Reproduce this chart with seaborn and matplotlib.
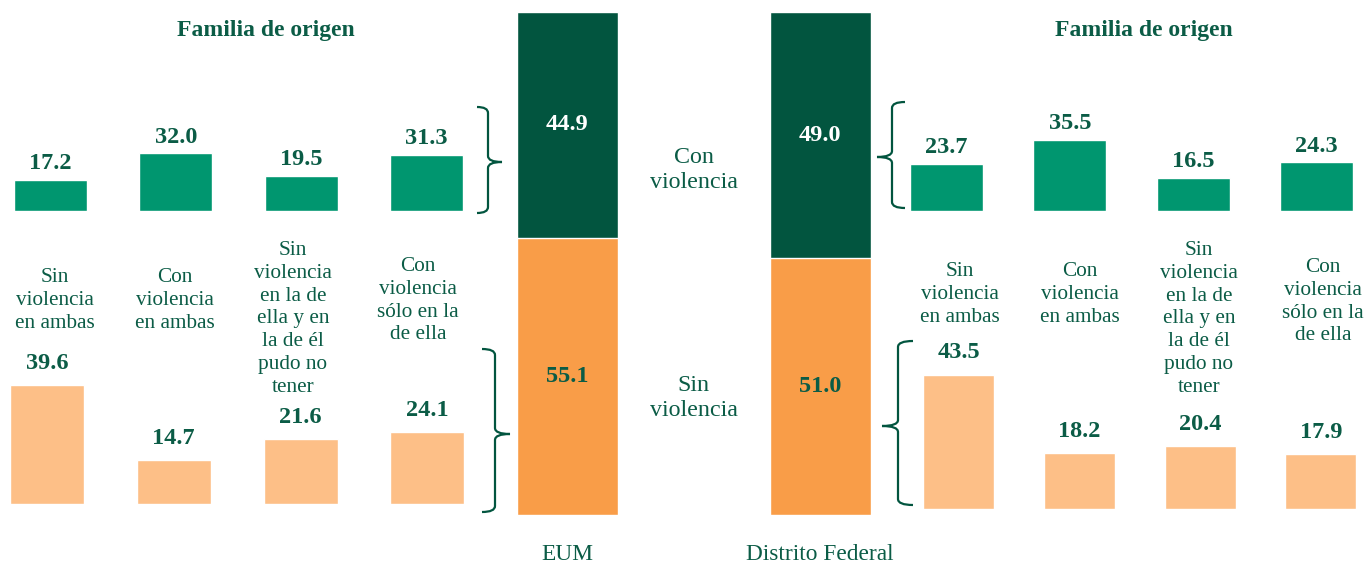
import seaborn as sns
import matplotlib.pyplot as plt
import numpy as np
import pandas as pd
from matplotlib.path import Path
from matplotlib.patches import PathPatch
from matplotlib.transforms import Affine2D

# Data
categories = ["Sin violencia en ambas", "Con violencia en ambas",
              "Sin violencia en la de ella y en la de él pudo no tener",
              "Con violencia sólo en la de ella"]
cat_labels = ["Sin\nviolencia\nen ambas", "Con\nviolencia\nen ambas",
              "Sin\nviolencia\nen la de\nella y en\nla de él\npudo no\ntener",
              "Con\nviolencia\nsólo en la\nde ella"]
eum_con = [17.2, 32.0, 19.5, 31.3]
eum_sin = [39.6, 14.7, 21.6, 24.1]
df_con = [23.7, 35.5, 16.5, 24.3]
df_sin = [43.5, 18.2, 20.4, 17.9]
regions = ["EUM", "Distrito Federal"]
total_con = [44.9, 49.0]
total_sin = [55.1, 51.0]

# Colours
GREEN = "#00966F"
DARK = "#02553F"
ORANGE = "#F99D48"
LIGHT = "#FDBF87"
TEXT = "#0B5C46"

sns.set_theme(style="white")
plt.rcParams['font.family'] = ['Liberation Serif', 'DejaVu Serif']

W, H = 1370, 565
fig = plt.figure(figsize=(W / 100, H / 100), dpi=100)
fig.patch.set_facecolor("white")
px = Affine2D().scale(1 / W, -1 / H).translate(0, 1) + fig.transFigure


def px_axes(x0, y0, x1, y1):
    ax = fig.add_axes([x0 / W, 1 - y1 / H, (x1 - x0) / W, (y1 - y0) / H])
    ax.set_facecolor("none")
    return ax


def small_panel(values, first, step, bar_w, top, base, unit, color, pad):
    # pixel geometry -> axes, seaborn does the bars
    ax = px_axes(first - step / 2, top, first + step * 3.5, base)
    sns.barplot(x=categories, y=values, color=color, saturation=1,
                width=bar_w / step, ax=ax)
    ax.set_xlim(-0.5, 3.5)
    ax.set_ylim(0, (base - top) / unit)
    ax.bar_label(ax.containers[0], fmt="%.1f", padding=pad, fontsize=17.5,
                 fontweight="bold", color=TEXT)
    ax.axis("off")
    return ax


small_panel(eum_con, 50.5, 125.3, 73, 60, 211, 1.8, GREEN, 4)
small_panel(eum_sin, 47, 126.8, 74, 330, 504, 3.0, LIGHT, 8)
small_panel(df_con, 946.5, 123.3, 73, 60, 211, 2.0, GREEN, 4)
small_panel(df_sin, 958.5, 120.8, 71, 330, 509, 3.09, LIGHT, 8)

# category labels
left_x = [55, 175, 293, 418]
left_top = [269, 269, 242, 258]
right_x = [960, 1080, 1199, 1323]
right_top = [263, 263, 242, 259]
for xs, tops in [(left_x, left_top), (right_x, right_top)]:
    for lab, x, t in zip(cat_labels, xs, tops):
        fig.text(x, t - 1, lab, transform=px, ha="center", va="top",
                 fontsize=15.3, color=TEXT, linespacing=1.27)

for x in [266, 1144]:
    fig.text(x, 36, "Familia de origen", transform=px, ha="center",
             va="baseline", fontsize=17, fontweight="bold", color=TEXT)

# central stacked bars
axc = px_axes(567.5 - 126.25, 12, 820 + 126.25, 515)
totals = [c + s for c, s in zip(total_con, total_sin)]
sns.barplot(x=regions, y=totals, color=DARK, saturation=1, width=0.4, ax=axc)
sns.barplot(x=regions, y=total_sin, color=ORANGE, saturation=1, width=0.4, ax=axc)
axc.set_xlim(-0.5, 1.5)
axc.set_ylim(0, 100)
for i, (c, s) in enumerate(zip(total_con, total_sin)):
    axc.text(i, s + c / 2, f"{c:.1f}", ha="center", va="center", fontsize=17.5,
             fontweight="bold", color="white")
    axc.text(i, s / 2, f"{s:.1f}", ha="center", va="center", fontsize=17.5,
             fontweight="bold", color=TEXT)
axc.text(0.5, 68.6, "Con\nviolencia", ha="center", va="center", fontsize=17.3,
         color=TEXT, linespacing=1.25)
axc.text(0.5, 23.3, "Sin\nviolencia", ha="center", va="center", fontsize=17.3,
         color=TEXT, linespacing=1.25)
axc.set_yticks([])
axc.set_xlabel("")
axc.tick_params(axis="x", length=0, pad=21, labelsize=16.8, labelcolor=TEXT)
sns.despine(ax=axc, left=True, bottom=True)


def brace(xa, xs, xt, yt, yb, ym, r=6):
    verts = [(xa, yt), (xs, yt), (xs, yt + r), (xs, ym - r), (xs, ym), (xt, ym),
             (xs, ym), (xs, ym + r), (xs, yb - r), (xs, yb), (xa, yb)]
    codes = [Path.MOVETO, Path.CURVE3, Path.CURVE3, Path.LINETO, Path.CURVE3,
             Path.CURVE3, Path.CURVE3, Path.CURVE3, Path.LINETO, Path.CURVE3,
             Path.CURVE3]
    fig.add_artist(PathPatch(Path(verts, codes), transform=px, fill=False,
                             edgecolor=DARK, lw=1.6))


brace(477, 488, 502, 107, 213, 162)
brace(482, 495, 510, 349, 512, 434)
brace(905, 892, 877, 102, 208, 157)
brace(913, 898, 882, 341, 505, 426)

fig.savefig("out.png", dpi=100)
